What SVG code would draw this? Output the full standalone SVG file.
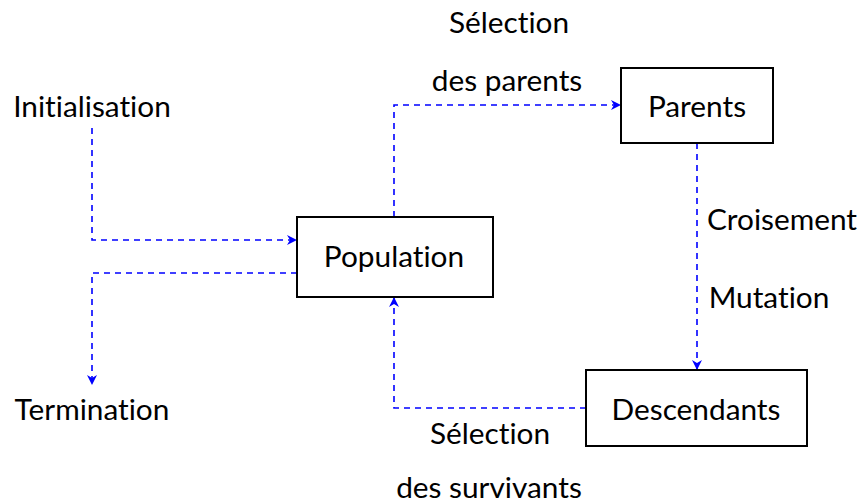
<svg xmlns="http://www.w3.org/2000/svg" width="860" height="502" viewBox="0 0 860 502">
<style>
text{font-family:Lato,"Open Sans","Liberation Sans",sans-serif;font-size:29.8px;fill:#000;text-anchor:middle;dominant-baseline:central;font-variant-ligatures:none;font-feature-settings:"liga" 0}
.box{fill:#fff;stroke:#000;stroke-width:2}
.c{fill:none;stroke:#0000ff;stroke-width:1.6;stroke-dasharray:6 5}
</style>
<defs>
<marker id="ah" viewBox="0 0 10 10" refX="9" refY="5" markerWidth="10" markerHeight="10" markerUnits="userSpaceOnUse" orient="auto">
<path d="M0,0 L10,5 L0,10 L3,5 Z" fill="#0000ff"/>
</marker>
</defs>
<g id="connectors">
<path class="c" d="M92,128 V240 H296" marker-end="url(#ah)"/>
<path class="c" d="M297,273 H92 V384" marker-end="url(#ah)"/>
<path class="c" d="M394,217 V105 H620" marker-end="url(#ah)"/>
<path class="c" d="M697,143 V369" marker-end="url(#ah)"/>
<path class="c" d="M586,408 H394 V298" marker-end="url(#ah)"/>
<text x="509" y="21">Sélection</text>
<text x="507" y="79">des parents</text>
<text x="782" y="218">Croisement</text>
<text x="769" y="296">Mutation</text>
<text x="490" y="432">Sélection</text>
<text x="489" y="486">des survivants</text>
</g>
<g id="initialisation"><text x="92" y="105">Initialisation</text></g>
<g id="termination"><text x="92" y="408">Termination</text></g>
<g id="population"><rect class="box" x="297" y="217" width="196" height="80"/><text x="394" y="255">Population</text></g>
<g id="parents"><rect class="box" x="621" y="68" width="152" height="75"/><text x="697" y="105">Parents</text></g>
<g id="descendants"><rect class="box" x="586" y="370" width="221" height="76"/><text x="696" y="408">Descendants</text></g>
</svg>
